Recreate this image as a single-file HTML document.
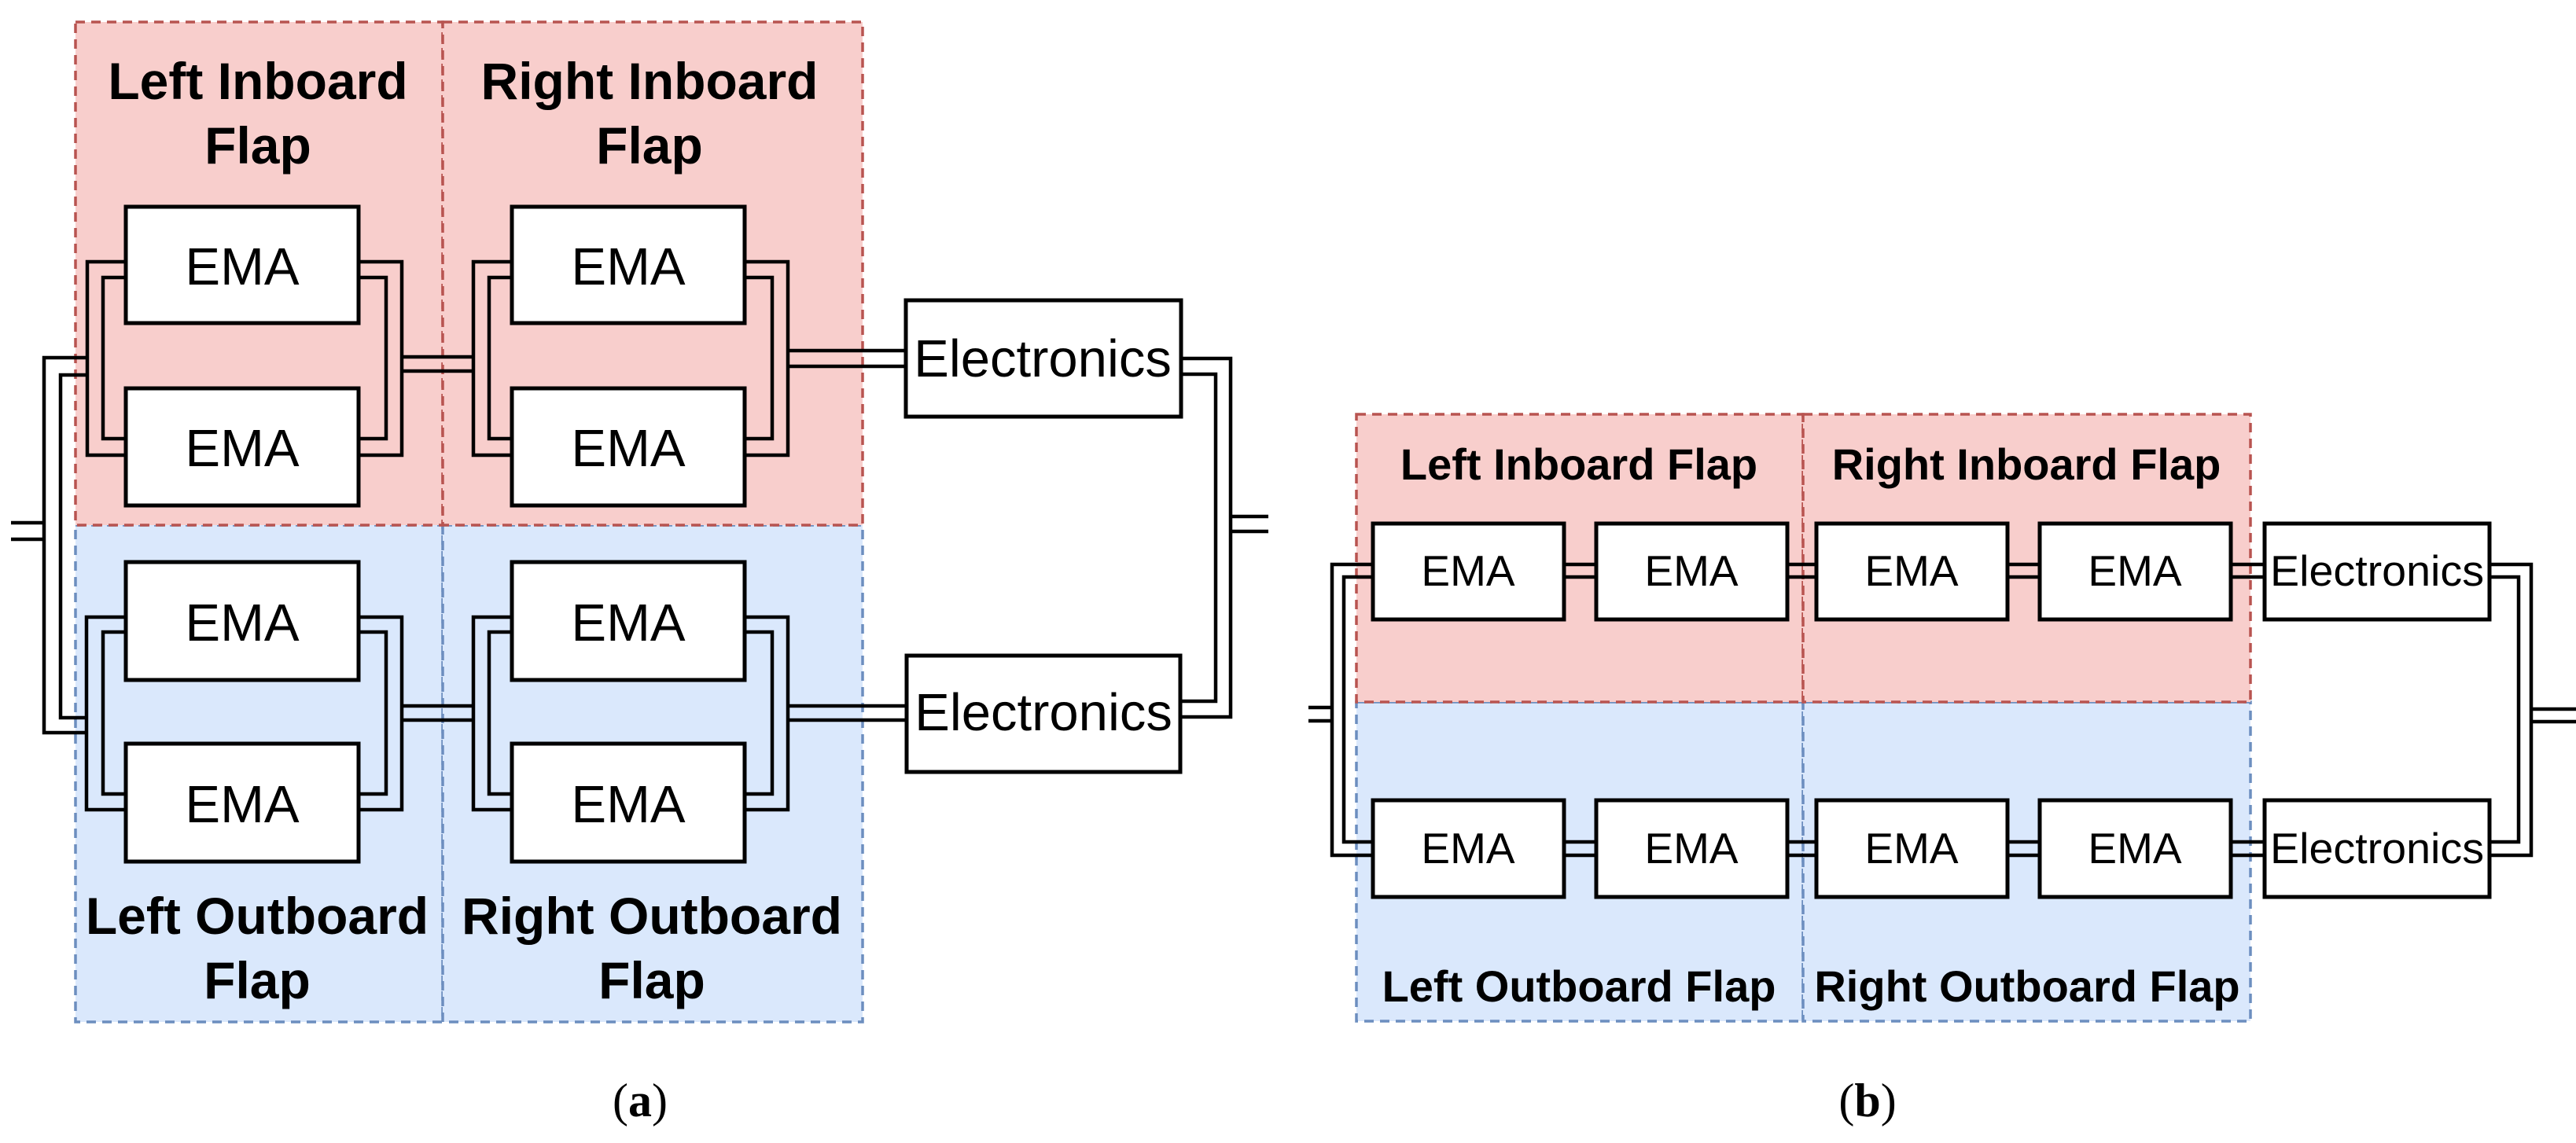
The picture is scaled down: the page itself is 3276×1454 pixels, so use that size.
<!DOCTYPE html>
<html><head><meta charset="utf-8"><style>
html,body{margin:0;padding:0;background:#fff;}
svg{display:block;}
</style></head><body>
<svg width="3276" height="1454" viewBox="0 0 3276 1454" xmlns="http://www.w3.org/2000/svg">
<g stroke-width="3.5" stroke-dasharray="12,8">
<!-- (a) regions -->
<rect x="96" y="668" width="467" height="632" fill="#dae8fc" stroke="#6c8ebf"/>
<rect x="563" y="668" width="534" height="632" fill="#dae8fc" stroke="#6c8ebf"/>
<rect x="96" y="28" width="467" height="640" fill="#f8cecc" stroke="#b85450"/>
<rect x="563" y="28" width="534" height="640" fill="#f8cecc" stroke="#b85450"/>
<!-- (b) regions -->
<rect x="1725" y="893" width="568" height="406" fill="#dae8fc" stroke="#6c8ebf"/>
<rect x="2293" y="893" width="569" height="406" fill="#dae8fc" stroke="#6c8ebf"/>
<rect x="1725" y="527" width="568" height="366" fill="#f8cecc" stroke="#b85450"/>
<rect x="2293" y="527" width="569" height="366" fill="#f8cecc" stroke="#b85450"/>
</g>

<g fill="none" stroke="#000" stroke-width="4.5">
<!-- (a) left inboard -->
<polyline points="160,333 111,333 111,579 160,579"/>
<polyline points="160,353 131,353 131,558 160,558"/>
<polyline points="456,333 511,333 511,579 456,579"/>
<polyline points="456,353 491,353 491,558 456,558"/>
<line x1="511" y1="454" x2="602" y2="454"/><line x1="511" y1="472" x2="602" y2="472"/>
<!-- right inboard -->
<polyline points="651,333 602,333 602,579 651,579"/>
<polyline points="651,353 622,353 622,558 651,558"/>
<polyline points="947,333 1002,333 1002,579 947,579"/>
<polyline points="947,353 982,353 982,558 947,558"/>
<line x1="1002" y1="446" x2="1152" y2="446"/><line x1="1002" y1="466" x2="1152" y2="466"/>
<!-- left outboard -->
<polyline points="160,785 110,785 110,1030 160,1030"/>
<polyline points="160,804 131,804 131,1010 160,1010"/>
<polyline points="456,785 511,785 511,1030 456,1030"/>
<polyline points="456,804 491,804 491,1010 456,1010"/>
<line x1="511" y1="898" x2="602" y2="898"/><line x1="511" y1="916" x2="602" y2="916"/>
<!-- right outboard -->
<polyline points="651,785 602,785 602,1030 651,1030"/>
<polyline points="651,804 622,804 622,1010 651,1010"/>
<polyline points="947,785 1002,785 1002,1030 947,1030"/>
<polyline points="947,804 982,804 982,1010 947,1010"/>
<line x1="1002" y1="898" x2="1153" y2="898"/><line x1="1002" y1="916" x2="1153" y2="916"/>
<!-- far left -->
<polyline points="111,455 56,455 56,932 110,932"/>
<polyline points="111,477 77,477 77,913 110,913"/>
<line x1="14" y1="665" x2="56" y2="665"/><line x1="14" y1="686" x2="56" y2="686"/>
<!-- right -->
<polyline points="1502,456 1565,456 1565,912 1501,912"/>
<polyline points="1502,476 1546,476 1546,892 1501,892"/>
<line x1="1565" y1="657" x2="1613" y2="657"/><line x1="1565" y1="676" x2="1613" y2="676"/>

<!-- (b) connectors -->
<line x1="1989" y1="718" x2="2030" y2="718"/><line x1="1989" y1="734" x2="2030" y2="734"/>
<line x1="2273" y1="718" x2="2310" y2="718"/><line x1="2273" y1="734" x2="2310" y2="734"/>
<line x1="2553" y1="718" x2="2594" y2="718"/><line x1="2553" y1="734" x2="2594" y2="734"/>
<line x1="2837" y1="718" x2="2880" y2="718"/><line x1="2837" y1="734" x2="2880" y2="734"/>
<line x1="1989" y1="1071" x2="2030" y2="1071"/><line x1="1989" y1="1088" x2="2030" y2="1088"/>
<line x1="2273" y1="1071" x2="2310" y2="1071"/><line x1="2273" y1="1088" x2="2310" y2="1088"/>
<line x1="2553" y1="1071" x2="2594" y2="1071"/><line x1="2553" y1="1088" x2="2594" y2="1088"/>
<line x1="2837" y1="1071" x2="2880" y2="1071"/><line x1="2837" y1="1088" x2="2880" y2="1088"/>
<polyline points="1746,718 1694,718 1694,1088 1746,1088"/>
<polyline points="1746,734 1709,734 1709,1071 1746,1071"/>
<line x1="1664" y1="900" x2="1694" y2="900"/><line x1="1664" y1="917" x2="1694" y2="917"/>
<polyline points="3166,718 3219,718 3219,1088 3166,1088"/>
<polyline points="3166,734 3203,734 3203,1071 3166,1071"/>
<line x1="3219" y1="902" x2="3276" y2="902"/><line x1="3219" y1="918" x2="3276" y2="918"/>
</g>

<g fill="#fff" stroke="#000" stroke-width="5">
<rect x="160" y="263" width="296" height="148"/>
<rect x="160" y="494" width="296" height="149"/>
<rect x="651" y="263" width="296" height="148"/>
<rect x="651" y="494" width="296" height="149"/>
<rect x="160" y="715" width="296" height="150"/>
<rect x="160" y="946" width="296" height="150"/>
<rect x="651" y="715" width="296" height="150"/>
<rect x="651" y="946" width="296" height="150"/>
<rect x="1152" y="382" width="350" height="148"/>
<rect x="1153" y="834" width="348" height="148"/>
<rect x="1746" y="666" width="243" height="122"/>
<rect x="2030" y="666" width="243" height="122"/>
<rect x="2310" y="666" width="243" height="122"/>
<rect x="2594" y="666" width="243" height="122"/>
<rect x="2880" y="666" width="286" height="122"/>
<rect x="1746" y="1018" width="243" height="123"/>
<rect x="2030" y="1018" width="243" height="123"/>
<rect x="2310" y="1018" width="243" height="123"/>
<rect x="2594" y="1018" width="243" height="123"/>
<rect x="2880" y="1018" width="286" height="123"/>
</g>

<g font-family="'Liberation Sans', Arial, sans-serif" text-anchor="middle" fill="#000">
<g font-size="67">
<text x="308" y="362">EMA</text><text x="308" y="593">EMA</text>
<text x="799" y="362">EMA</text><text x="799" y="593">EMA</text>
<text x="308" y="815">EMA</text><text x="308" y="1046">EMA</text>
<text x="799" y="815">EMA</text><text x="799" y="1046">EMA</text>
<text x="1326" y="479">Electronics</text>
<text x="1327" y="929">Electronics</text>
</g>
<g font-size="55">
<text x="1867" y="745">EMA</text><text x="2151" y="745">EMA</text><text x="2431" y="745">EMA</text><text x="2715" y="745">EMA</text>
<text x="1867" y="1098">EMA</text><text x="2151" y="1098">EMA</text><text x="2431" y="1098">EMA</text><text x="2715" y="1098">EMA</text>
<text x="3023" y="745" textLength="272" lengthAdjust="spacingAndGlyphs">Electronics</text>
<text x="3023" y="1098" textLength="272" lengthAdjust="spacingAndGlyphs">Electronics</text>
</g>
<g font-size="66" font-weight="bold">
<text x="328" y="126">Left Inboard</text><text x="328" y="208">Flap</text>
<text x="826" y="126">Right Inboard</text><text x="826" y="208">Flap</text>
<text x="327" y="1188">Left Outboard</text><text x="327" y="1270">Flap</text>
<text x="829" y="1188">Right Outboard</text><text x="829" y="1270">Flap</text>
</g>
<g font-size="56" font-weight="bold">
<text x="2008" y="610">Left Inboard Flap</text>
<text x="2577" y="610">Right Inboard Flap</text>
<text x="2008" y="1274">Left Outboard Flap</text>
<text x="2578" y="1274">Right Outboard Flap</text>
</g>
</g>
<g font-family="'Liberation Serif', serif" font-size="60" text-anchor="middle" fill="#000">
<text x="814" y="1420">(<tspan font-weight="bold">a</tspan>)</text>
<text x="2375" y="1420">(<tspan font-weight="bold">b</tspan>)</text>
</g>
</svg>
</body></html>
